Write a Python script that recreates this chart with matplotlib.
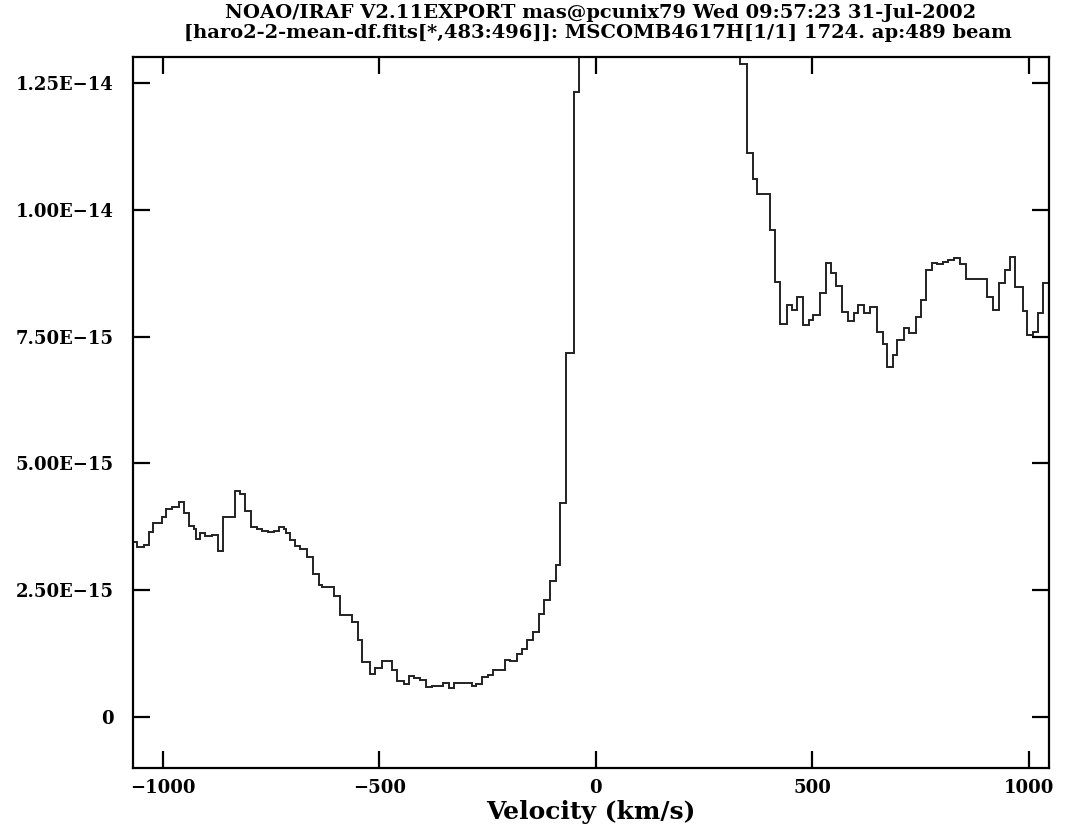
import numpy as np
import matplotlib
matplotlib.use("Agg")
import matplotlib.pyplot as plt

# step edges (km/s) and flux levels (units of 1e-15)
vel_edges = [-1075.0, -1059.8, -1044.4, -1032.8, -1022.8, -1002.0, -992.0, -979.0,
             -963.6, -952.0, -940.5, -928.9, -923.5, -913.5, -902.0, -886.6,
             -873.5, -861.2, -834.3, -822.7, -809.7, -796.6, -782.7, -771.2,
             -758.1, -744.2, -732.7, -721.2, -715.0, -707.3, -694.2, -682.7,
             -667.3, -653.4, -640.4, -632.6, -604.2, -590.3, -563.4, -550.3,
             -540.3, -522.6, -509.5, -494.1, -471.0, -459.5, -444.1, -432.6,
             -421.0, -405.6, -391.8, -378.7, -353.3, -340.2, -327.1, -286.3,
             -276.3, -263.3, -250.2, -237.9, -209.4, -197.9, -182.5, -170.9,
             -159.4, -145.5, -132.4, -119.4, -105.5, -92.4, -82.4, -69.3,
             -51.6, -39.3, 333.1, 348.5, 361.6, 371.6, 400.9, 412.4,
             425.5, 440.9, 452.4, 464.0, 479.3, 490.9, 502.4, 516.3,
             531.7, 543.2, 554.8, 567.9, 581.7, 594.8, 606.3, 620.2,
             633.3, 650.0, 662.5, 673.3, 685.6, 696.4, 711.8, 724.1,
             739.5, 750.3, 762.6, 775.6, 788.7, 802.6, 814.1, 827.2,
             841.1, 854.9, 904.2, 918.0, 931.9, 944.9, 956.5, 968.0,
             985.7, 996.5, 1008.8, 1021.9, 1033.4, 1047.3, 1060.0]
flux = [3.455, 3.357, 3.390, 3.653, 3.817, 3.948, 4.093, 4.145,
        4.231, 4.014, 3.764, 3.718, 3.521, 3.620, 3.567, 3.587,
        3.278, 3.935, 4.454, 4.395, 4.060, 3.751, 3.718, 3.672,
        3.640, 3.666, 3.738, 3.699, 3.633, 3.488, 3.370, 3.324,
        3.160, 2.818, 2.601, 2.569, 2.385, 2.010, 1.879, 1.518,
        1.091, 0.861, 0.979, 1.110, 0.926, 0.716, 0.650, 0.815,
        0.782, 0.742, 0.598, 0.624, 0.677, 0.585, 0.677, 0.624,
        0.650, 0.795, 0.828, 0.939, 1.123, 1.104, 1.255, 1.353,
        1.518, 1.682, 2.030, 2.319, 2.680, 3.009, 4.211, 7.18,
        12.31, 40.0, 12.87, 11.12, 10.60, 10.31, 9.60, 8.58,
        7.745, 8.12, 8.02, 8.28, 7.73, 7.82, 7.92, 8.35,
        8.95, 8.76, 8.49, 7.99, 7.81, 7.96, 8.12, 7.96,
        8.09, 7.59, 7.36, 6.90, 7.13, 7.44, 7.66, 7.57,
        7.88, 8.22, 8.82, 8.95, 8.92, 8.97, 9.01, 9.05,
        8.93, 8.63, 8.28, 8.02, 8.55, 8.82, 9.06, 8.47,
        8.00, 7.53, 7.59, 7.97, 8.55, 8.55]

xticks = [-1000, -500, 0, 500, 1000]
xtick_labels = ["\u22121000", "\u2212500", "0", "500", "1000"]
yticks = [0, 2.5e-15, 5e-15, 7.5e-15, 1e-14, 1.25e-14]
ytick_labels = ["0", "2.50E\u221215", "5.00E\u221215", "7.50E\u221215",
                "1.00E\u221214", "1.25E\u221214"]

title1 = "NOAO/IRAF V2.11EXPORT mas@pcunix79 Wed 09:57:23 31-Jul-2002"
title2 = "[haro2-2-mean-df.fits[*,483:496]]: MSCOMB4617H[1/1] 1724. ap:489 beam"

fig = plt.figure(figsize=(10.77, 8.34), dpi=100)
ax = fig.add_axes([0.1235, 0.0791, 0.8508, 0.8522])

ax.stairs(np.array(flux) * 1e-15, vel_edges, baseline=None,
          color="#222222", linewidth=1.4)

ax.set_xlim(-1069, 1047)
ax.set_ylim(-1.0e-15, 1.3e-14)

ax.set_xticks(xticks)
ax.set_xticklabels(xtick_labels)
ax.set_yticks(yticks)
ax.set_yticklabels(ytick_labels)
ax.tick_params(direction="in", length=12, width=1.6, top=True, right=True,
               labelsize=13)
ax.tick_params(axis="y", pad=14)
ax.tick_params(axis="x", pad=8)
for lab in ax.get_xticklabels() + ax.get_yticklabels():
    lab.set_family("DejaVu Serif")
    lab.set_fontweight("bold")
for s in ax.spines.values():
    s.set_linewidth(1.6)

ax.set_xlabel("Velocity (km/s)", family="DejaVu Serif", fontweight="bold",
              fontsize=18, labelpad=2)
fig.text(0.558, 1 - 18 / 834, title1, ha="center", va="baseline",
         family="DejaVu Serif", fontweight="bold", fontsize=14)
fig.text(0.555, 1 - 38 / 834, title2, ha="center", va="baseline",
         family="DejaVu Serif", fontweight="bold", fontsize=14)

fig.savefig("out.png", dpi=100)
